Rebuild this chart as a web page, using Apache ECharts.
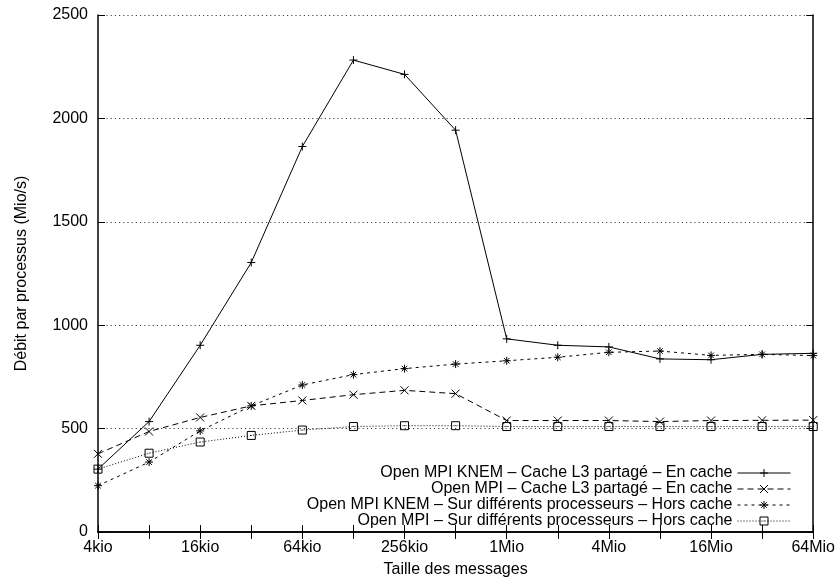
<!DOCTYPE html>
<html>
<head>
<meta charset="utf-8">
<script src="https://cdn.jsdelivr.net/npm/echarts@6/dist/echarts.min.js"></script>
<style>
  html, body { margin: 0; padding: 0; background: #fff; }
  #chart { width: 838px; height: 583px; }
</style>
</head>
<body>
<div id="chart"></div>
<script>
const sizes = ['4kio', '8kio', '16kio', '32kio', '64kio', '128kio', '256kio', '512kio',
  '1Mio', '2Mio', '4Mio', '8Mio', '16Mio', '32Mio', '64Mio']
const yTicks = [0, 500, 1000, 1500, 2000, 2500]

const knemL3 = [304, 534, 903, 1303, 1864, 2282, 2213, 1943, 934, 903, 895, 837, 833, 859, 864]
const ompiL3 = [378, 486, 554, 610, 636, 664, 685, 669, 539, 539, 539, 534, 539, 540, 541]
const knemHors = [224, 338, 489, 610, 711, 761, 790, 812, 828, 845, 869, 875, 854, 859, 853]
const ompiHors = [304, 381, 435, 467, 493, 510, 514, 514, 510, 510, 510, 510, 510, 510, 510]

const names = [
  'Open MPI KNEM – Cache L3 partagé – En cache',
  'Open MPI – Cache L3 partagé – En cache',
  'Open MPI KNEM – Sur différents processeurs – Hors cache',
  'Open MPI – Sur différents processeurs – Hors cache'
]

const symPlus = 'path://M5,0L5,10M0,5L10,5'
const symCross = 'path://M0,0L10,10M10,0L0,10'
const symStar = 'path://M5,0L5,10M0,5L10,5M1.5,1.5L8.5,8.5M8.5,1.5L1.5,8.5'
const symSquare = 'path://M0,0L10,0L10,10L0,10ZM5,4.5L5,5.5'

const font = 'Liberation Sans, Arial, Helvetica, sans-serif'
const chart = echarts.init(document.getElementById('chart'))

const makeSeries = (name, data, symbol, dash) => ({
  name,
  type: 'line',
  data,
  symbol,
  symbolSize: 8,
  showAllSymbol: true,
  xAxisIndex: 0,
  yAxisIndex: 0,
  itemStyle: { color: 'none', borderColor: '#000', borderWidth: 1 },
  lineStyle: { color: '#000', width: 1, type: dash },
  emphasis: { disabled: true }
})

const mirrorTick = { show: true, inside: true, length: 7, lineStyle: { color: '#000', width: 1 } }
const border = { show: true, lineStyle: { color: '#000', width: 1.5 } }

chart.setOption({
  animation: false,
  textStyle: { fontFamily: font },
  grid: { left: 98, right: 22, top: 15, bottom: 50 },
  legend: {
    orient: 'vertical',
    right: 42,
    top: 460,
    align: 'right',
    itemWidth: 53,
    itemHeight: 10,
    itemGap: 0,
    selectedMode: false,
    itemStyle: { color: 'none', borderColor: '#000', borderWidth: 1 },
    lineStyle: { color: '#000', width: 1 },
    textStyle: { fontFamily: font, fontSize: 16, color: '#000', lineHeight: 16 },
    data: names
  },
  xAxis: [
    {
      type: 'category',
      data: sizes,
      boundaryGap: false,
      position: 'bottom',
      name: 'Taille des messages',
      nameLocation: 'middle',
      nameGap: 30,
      nameTextStyle: { fontSize: 16, color: '#000', fontFamily: font },
      axisLine: border,
      axisTick: { ...mirrorTick, interval: 0 },
      axisLabel: { interval: 1, fontSize: 16, color: '#000', margin: 8, fontFamily: font },
      splitLine: { show: false }
    },
    {
      type: 'category',
      data: sizes,
      boundaryGap: false,
      position: 'top',
      axisLine: border,
      axisTick: { ...mirrorTick, interval: 0 },
      axisLabel: { show: false },
      splitLine: { show: false }
    }
  ],
  yAxis: [
    {
      type: 'value',
      min: yTicks[0],
      max: yTicks[yTicks.length - 1],
      interval: 500,
      position: 'left',
      name: 'Débit par processus (Mio/s)',
      nameLocation: 'middle',
      nameGap: 68,
      nameTextStyle: { fontSize: 16, color: '#000', fontFamily: font },
      axisLine: border,
      axisTick: mirrorTick,
      axisLabel: { fontSize: 16, color: '#000', margin: 10, fontFamily: font, formatter: v => String(v) },
      splitLine: { show: true, lineStyle: { color: '#444', width: 1, type: [1.2, 3] } }
    },
    {
      type: 'value',
      min: yTicks[0],
      max: yTicks[yTicks.length - 1],
      interval: 500,
      position: 'right',
      axisLine: border,
      axisTick: mirrorTick,
      axisLabel: { show: false },
      splitLine: { show: false }
    }
  ],
  series: [
    makeSeries(names[0], knemL3, symPlus, 'solid'),
    makeSeries(names[1], ompiL3, symCross, [6, 4]),
    makeSeries(names[2], knemHors, symStar, [3, 4]),
    makeSeries(names[3], ompiHors, symSquare, [1, 2])
  ]
})
</script>
</body>
</html>
